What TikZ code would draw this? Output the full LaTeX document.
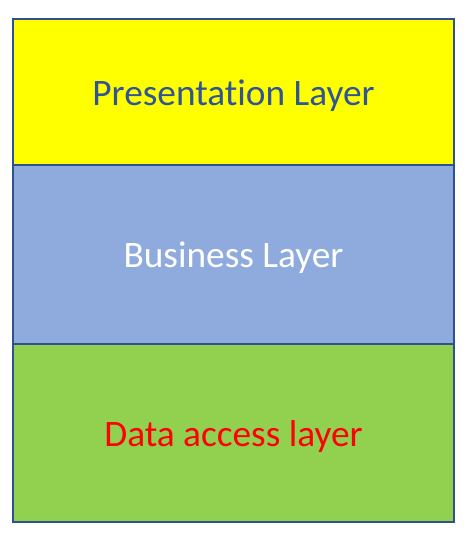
\documentclass[tikz,border=0pt]{standalone}
\usepackage{fontspec}
\setmainfont[Ligatures={NoCommon}]{Carlito}
\usetikzlibrary{positioning}

\definecolor{layerline}{RGB}{47,82,143}
\definecolor{presfill}{RGB}{255,255,0}
\definecolor{busfill}{RGB}{143,170,220}
\definecolor{datafill}{RGB}{146,208,80}
\definecolor{prestext}{RGB}{47,85,151}

\tikzset{
  layer/.style={draw=layerline, line width=1.2pt, minimum width=330.75pt,
    inner sep=0pt, outer sep=0pt, text height=24pt, text depth=4pt,
    font=\fontsize{28}{32}\selectfont}
}

\begin{document}
\begin{tikzpicture}[x=0.75pt, y=-0.75pt]
\useasboundingbox (0,0) rectangle (474,536);

\node[layer, fill=presfill, text=prestext, minimum height=109.5pt, anchor=north west] (pres) at (13,19) {Presentation Layer};
\node[layer, fill=busfill, text=white, minimum height=134.25pt, below=0pt of pres] (bus) {Business Layer};
\node[layer, fill=datafill, text=red, minimum height=133.5pt, below=0pt of bus] (data) {Data access layer};
\end{tikzpicture}
\end{document}
